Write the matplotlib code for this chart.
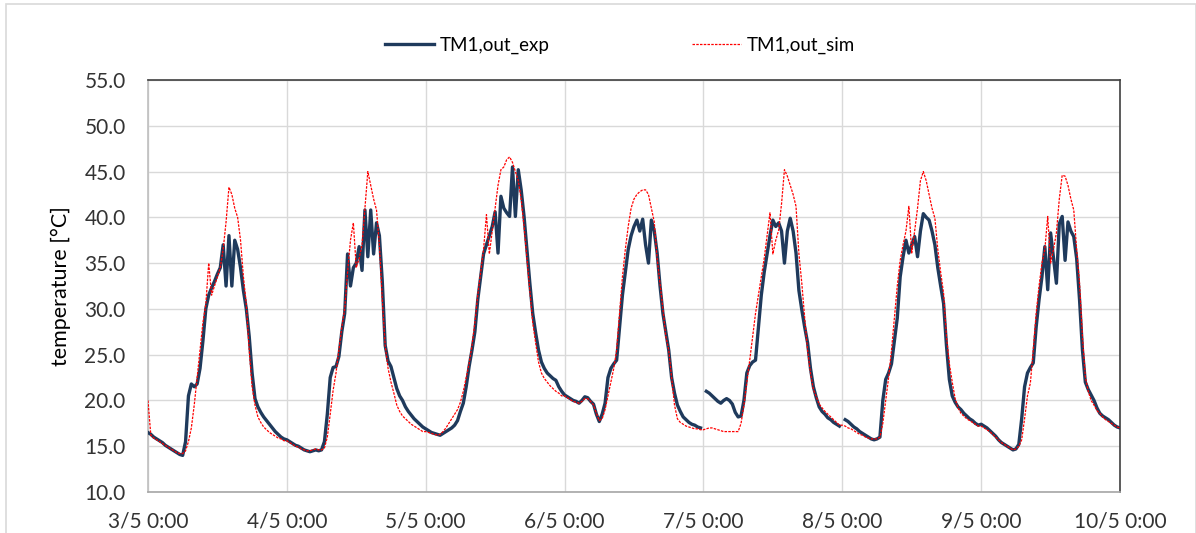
import numpy as np
import matplotlib
matplotlib.use("Agg")
from matplotlib import pyplot as plt
from matplotlib.patches import Rectangle

# --- data: half-hourly readings, one list of 48 values per day ---
day_labels = ["3/5 0:00", "4/5 0:00", "5/5 0:00", "6/5 0:00",
              "7/5 0:00", "8/5 0:00", "9/5 0:00", "10/5 0:00"]

exp_day1 = [16.5, 16.3, 16.0, 15.8, 15.6, 15.4, 15.1, 14.9, 14.7, 14.5, 14.3, 14.1,
            14.0, 15.5, 20.5, 21.8, 21.5, 21.8, 23.5, 26.5, 30.0, 31.5, 32.3, 33.0,
            33.8, 34.5, 37.0, 32.5, 38.0, 32.5, 37.5, 36.5, 34.5, 32.0, 30.0, 27.0,
            23.0, 20.2, 19.3, 18.7, 18.2, 17.8, 17.4, 17.0, 16.6, 16.3, 16.0, 15.8]
exp_day2 = [15.7, 15.5, 15.3, 15.1, 15.0, 14.8, 14.6, 14.5, 14.4, 14.5, 14.6, 14.5,
            14.6, 15.5, 18.5, 22.5, 23.6, 23.7, 24.8, 27.5, 29.5, 36.0, 32.5, 34.5,
            35.0, 36.8, 34.2, 40.8, 35.7, 40.8, 36.0, 39.4, 38.0, 33.0, 26.0, 24.3,
            23.7, 22.5, 21.3, 20.5, 20.0, 19.3, 18.8, 18.4, 18.0, 17.7, 17.4, 17.1]
exp_day3 = [16.9, 16.7, 16.5, 16.4, 16.3, 16.2, 16.4, 16.6, 16.8, 17.0, 17.3, 17.8,
            18.8, 19.7, 21.5, 23.7, 25.5, 27.5, 31.0, 33.5, 36.0, 37.0, 38.0, 39.0,
            40.6, 36.1, 42.3, 41.0, 40.5, 40.1, 45.5, 40.1, 45.2, 43.0, 40.1, 36.5,
            32.8, 29.5, 27.4, 25.5, 24.2, 23.5, 23.0, 22.7, 22.4, 22.2, 21.5, 21.0]
exp_day4 = [20.6, 20.4, 20.2, 20.0, 19.9, 19.7, 20.0, 20.4, 20.3, 19.9, 19.6, 18.5,
            17.7, 18.5, 19.7, 22.5, 23.5, 24.0, 24.4, 28.0, 31.5, 34.0, 36.5, 38.0,
            39.0, 39.7, 38.5, 39.8, 37.0, 35.0, 39.7, 38.5, 36.1, 32.5, 29.5, 27.5,
            25.5, 22.5, 20.8, 19.5, 18.8, 18.2, 17.9, 17.6, 17.4, 17.3, 17.1, 17.0]
exp_day5 = [np.nan, 21.0, 20.8, 20.5, 20.2, 19.9, 19.7, 20.0, 20.2, 20.0, 19.6, 18.7,
            18.2, 18.3, 20.0, 23.0, 23.8, 24.2, 24.4, 28.0, 31.5, 34.0, 36.0, 38.0,
            39.7, 39.0, 39.4, 38.5, 35.0, 38.5, 39.9, 38.5, 36.1, 32.0, 29.9, 28.0,
            26.3, 23.5, 21.5, 20.3, 19.3, 18.8, 18.5, 18.1, 17.9, 17.6, 17.4, 17.2]
exp_day6 = [np.nan, 17.9, 17.7, 17.4, 17.1, 16.9, 16.6, 16.4, 16.2, 16.0, 15.8, 15.7,
            15.8, 16.0, 20.0, 22.3, 23.0, 24.0, 26.5, 29.0, 33.5, 35.7, 37.5, 36.1,
            37.0, 37.9, 35.7, 38.5, 40.4, 40.0, 39.7, 38.5, 37.0, 34.5, 32.5, 30.6,
            26.0, 22.3, 20.5, 19.8, 19.3, 19.0, 18.6, 18.3, 18.0, 17.8, 17.5, 17.3]
exp_day7 = [17.4, 17.2, 17.0, 16.7, 16.4, 16.1, 15.7, 15.4, 15.2, 15.0, 14.8, 14.6,
            14.7, 15.2, 18.0, 21.5, 23.0, 23.6, 24.1, 28.0, 31.0, 33.5, 36.8, 32.1,
            38.3, 35.5, 32.8, 39.3, 40.1, 35.3, 39.5, 38.5, 37.9, 35.5, 31.0, 25.5,
            22.0, 21.2, 20.6, 20.0, 19.2, 18.6, 18.3, 18.1, 17.9, 17.6, 17.3, 17.1]
exp_end = [17.0]

sim_day1 = [20.0, 16.2, 15.9, 15.7, 15.5, 15.3, 15.1, 14.9, 14.7, 14.5, 14.3, 14.2,
            14.2, 14.5, 15.5, 17.0, 19.5, 22.5, 25.5, 28.5, 30.5, 35.0, 31.5, 32.5,
            33.5, 34.5, 36.5, 39.5, 43.3, 42.5, 41.0, 40.0, 37.5, 33.5, 30.5, 25.5,
            21.5, 19.5, 18.2, 17.6, 17.1, 16.8, 16.5, 16.3, 16.1, 15.9, 15.8, 15.6]
sim_day2 = [15.6, 15.4, 15.2, 15.0, 14.9, 14.7, 14.6, 14.5, 14.5, 14.6, 14.7, 14.6,
            14.6, 14.8, 16.0, 18.5, 21.1, 23.0, 25.5, 28.0, 30.0, 34.0, 37.5, 39.4,
            34.5, 35.5, 37.0, 41.0, 45.0, 43.5, 42.0, 40.8, 37.0, 31.0, 26.0, 23.5,
            22.0, 20.8, 19.5, 18.8, 18.3, 18.0, 17.7, 17.4, 17.2, 17.0, 16.8, 16.6]
sim_day3 = [16.6, 16.5, 16.4, 16.3, 16.2, 16.3, 16.6, 17.0, 17.5, 18.0, 18.5, 19.0,
            19.8, 21.0, 22.5, 24.0, 26.0, 28.5, 31.5, 34.0, 36.5, 40.3, 36.0, 38.5,
            41.0, 43.5, 45.2, 45.5, 46.3, 46.6, 46.0, 45.0, 44.0, 42.0, 39.0, 35.5,
            32.1, 28.5, 26.3, 24.2, 23.0, 22.4, 22.0, 21.6, 21.3, 21.0, 20.8, 20.5]
sim_day4 = [20.5, 20.3, 20.1, 19.9, 19.8, 19.7, 19.9, 20.2, 20.2, 19.9, 19.5, 18.6,
            17.8, 18.0, 19.0, 20.5, 22.0, 23.5, 25.5, 29.5, 33.5, 36.5, 39.0, 41.0,
            42.0, 42.5, 42.8, 43.0, 43.0, 42.5, 41.0, 39.5, 35.5, 32.8, 30.0, 27.0,
            25.5, 22.5, 19.5, 18.0, 17.6, 17.4, 17.2, 17.1, 17.0, 16.9, 16.9, 16.8]
sim_day5 = [16.8, 16.9, 17.0, 17.0, 16.9, 16.8, 16.7, 16.6, 16.6, 16.6, 16.6, 16.6,
            16.6, 17.5, 19.5, 22.0, 24.4, 27.0, 29.5, 31.5, 33.5, 35.5, 38.0, 40.5,
            36.0, 37.5, 38.6, 41.5, 45.2, 44.5, 43.5, 42.5, 41.2, 36.0, 32.8, 29.0,
            25.5, 23.0, 21.2, 20.4, 19.6, 19.2, 18.8, 18.5, 18.2, 17.9, 17.6, 17.3]
sim_day6 = [17.3, 17.2, 17.0, 16.9, 16.7, 16.5, 16.3, 16.2, 16.0, 15.9, 15.8, 15.8,
            15.8, 16.0, 17.5, 20.0, 22.5, 25.5, 29.0, 32.5, 35.3, 37.0, 38.5, 41.2,
            36.1, 38.5, 41.0, 44.0, 45.0, 44.0, 42.5, 41.0, 39.9, 36.5, 34.0, 31.7,
            27.0, 24.0, 22.0, 20.2, 19.2, 18.6, 18.3, 18.0, 17.8, 17.6, 17.4, 17.2]
sim_day7 = [17.2, 17.0, 16.8, 16.6, 16.3, 16.0, 15.7, 15.4, 15.2, 15.0, 14.8, 14.6,
            14.7, 15.0, 15.7, 18.0, 20.5, 21.9, 25.5, 29.5, 32.5, 35.0, 36.5, 40.1,
            35.0, 36.5, 38.3, 42.0, 44.6, 44.5, 43.5, 42.0, 40.8, 36.5, 32.8, 27.0,
            22.6, 21.0, 20.0, 19.5, 18.9, 18.6, 18.2, 17.9, 17.7, 17.5, 17.3, 17.1]
sim_end = [17.0]

y_ticks = [10, 15, 20, 25, 30, 35, 40, 45, 50, 55]

t_exp = np.array(exp_day1 + exp_day2 + exp_day3 + exp_day4 + exp_day5 + exp_day6
                 + exp_day7 + exp_end)
t_sim = np.array(sim_day1 + sim_day2 + sim_day3 + sim_day4 + sim_day5 + sim_day6
                 + sim_day7 + sim_end)
hours = np.arange(len(t_exp)) * 0.5

# --- figure ---
plt.rcParams['font.family'] = ['Lato', 'DejaVu Sans']
fig = plt.figure(figsize=(11.96, 5.33), dpi=100)
fig.patches.append(Rectangle((0.005, -0.01), 0.995, 1.002, transform=fig.transFigure,
                             fill=False, edgecolor="#D9D9D9", linewidth=1.2))
ax = fig.add_axes([0.1237, 0.0769, 0.8128, 0.773])

l_exp, = ax.plot(hours, t_exp, color="#1F3A5C", linewidth=2.4, label="TM1,out_exp",
                 zorder=3)
l_sim, = ax.plot(hours, t_sim, color="#FF0000", linewidth=0.9, linestyle=(0, (2, 1)),
                 label="TM1,out_sim", zorder=4)

ax.set_xlim(0, 24 * 7)
ax.set_ylim(10, 55)
ax.set_xticks(np.arange(len(day_labels)) * 24)
ax.set_xticklabels(day_labels)
ax.set_yticks(y_ticks)
ax.set_yticklabels([f"{v:.1f}" for v in y_ticks])
ax.tick_params(length=0, labelsize=15, colors="#333333")
ax.tick_params(axis='x', pad=14)
ax.tick_params(axis='y', pad=16)
ax.grid(True, color="#D9D9D9", linewidth=1)
ax.set_axisbelow(True)
ax.set_ylabel("temperature [°C]", fontsize=15.5, color="#000000", labelpad=10)

ax.spines['left'].set_color("#BFBFBF")
ax.spines['bottom'].set_color("#A6A6A6")
ax.spines['top'].set_color("#404040")
ax.spines['right'].set_color("#404040")
for s in ax.spines.values():
    s.set_linewidth(1.2)

fig.legend(handles=[l_exp, l_sim], loc="center", bbox_to_anchor=(620 / 1196, 1 - 45 / 533),
           ncol=2, frameon=False, fontsize=13.5, handlelength=2.6, columnspacing=7.6,
           handletextpad=0.3)

fig.savefig("out.png", dpi=100)
